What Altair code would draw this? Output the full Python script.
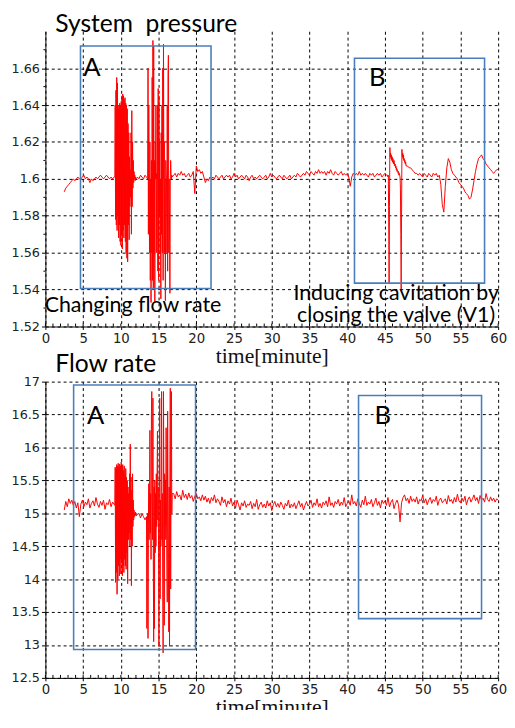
import altair as alt
import pandas as pd

# ---------------- data ----------------
# pressure segments: (start minute, step minute, values)
p_seg1 = [1.593, 1.595, 1.596, 1.597, 1.598, 1.599, 1.600, 1.599, 1.600, 1.601,
          1.600, 1.600, 1.601, 1.602, 1.600, 1.601, 1.600, 1.598, 1.600, 1.599,
          1.600, 1.601, 1.600, 1.601, 1.602, 1.601, 1.600, 1.601, 1.602, 1.601,
          1.600, 1.601, 1.600, 1.601]
p_seg2 = [1.601, 1.601, 1.640, 1.578, 1.648, 1.575, 1.655, 1.572, 1.652, 1.580,
          1.640, 1.568, 1.638, 1.575, 1.641, 1.566, 1.640, 1.564, 1.642, 1.570,
          1.645, 1.562, 1.646, 1.572, 1.645, 1.568, 1.643, 1.575, 1.644, 1.566,
          1.641, 1.560, 1.640, 1.557, 1.638, 1.555, 1.630, 1.575, 1.625, 1.567,
          1.612, 1.585, 1.605, 1.590, 1.625, 1.570, 1.637, 1.585, 1.620, 1.595,
          1.610, 1.598, 1.604, 1.600, 1.602, 1.599, 1.601, 1.600]
p_seg3 = [1.601, 1.600, 1.602, 1.601, 1.600, 1.602, 1.601]
p_seg4 = [1.600, 1.660, 1.570, 1.640, 1.600, 1.560, 1.620, 1.545, 1.600, 1.533,
          1.610, 1.560, 1.655, 1.545, 1.675, 1.540, 1.672, 1.560, 1.610, 1.533,
          1.620, 1.600, 1.640, 1.560, 1.603, 1.600, 1.640, 1.550, 1.649, 1.545,
          1.645, 1.580, 1.620, 1.560, 1.600, 1.535, 1.625, 1.570, 1.640, 1.560,
          1.660, 1.545, 1.673, 1.600, 1.620, 1.560, 1.600, 1.534, 1.610, 1.602,
          1.600, 1.560, 1.640, 1.550, 1.655, 1.667, 1.560, 1.600, 1.575, 1.538,
          1.600, 1.610, 1.603, 1.600, 1.602, 1.601]
p_seg5 = [1.602, 1.603, 1.601, 1.603, 1.602, 1.604, 1.602, 1.603, 1.601, 1.602,
          1.603, 1.601, 1.602, 1.604, 1.592, 1.607, 1.604, 1.605, 1.603, 1.604,
          1.601, 1.598, 1.600, 1.599, 1.601, 1.600, 1.601, 1.600, 1.602, 1.601,
          1.600, 1.601, 1.602, 1.600, 1.601, 1.602, 1.601, 1.602, 1.600, 1.601,
          1.603, 1.601, 1.602, 1.600, 1.601, 1.602, 1.601, 1.600, 1.602, 1.601,
          1.599, 1.601, 1.602, 1.600, 1.601, 1.600, 1.601, 1.602, 1.601, 1.600,
          1.601, 1.602, 1.600, 1.601, 1.603, 1.601, 1.602, 1.601, 1.600, 1.601,
          1.602, 1.601, 1.600, 1.602, 1.601, 1.600, 1.601, 1.602, 1.600, 1.601,
          1.602, 1.601, 1.603, 1.602, 1.601, 1.602, 1.603, 1.602, 1.604, 1.603,
          1.602, 1.604, 1.603, 1.602, 1.604, 1.603, 1.605, 1.603, 1.604, 1.603,
          1.604, 1.602, 1.604, 1.603, 1.605, 1.603, 1.602, 1.604, 1.603, 1.602,
          1.603, 1.604, 1.602, 1.603, 1.602, 1.603, 1.601, 1.596, 1.601, 1.603,
          1.602, 1.603, 1.602, 1.604, 1.602, 1.603, 1.602, 1.603, 1.602, 1.601,
          1.603, 1.602, 1.603, 1.601, 1.602, 1.603, 1.602, 1.603, 1.601, 1.602,
          1.603, 1.602]
p_seg6 = [1.602, 1.601, 1.602, 1.575, 1.543, 1.585, 1.617, 1.612, 1.614, 1.611,
          1.613, 1.610, 1.612, 1.609, 1.611, 1.610, 1.608, 1.610, 1.609, 1.607,
          1.608, 1.606, 1.607, 1.605, 1.606, 1.604, 1.605, 1.604, 1.603, 1.604,
          1.602, 1.603, 1.602, 1.601, 1.595, 1.570, 1.540, 1.580, 1.616, 1.612,
          1.614, 1.611, 1.613, 1.610, 1.611, 1.609, 1.610, 1.608, 1.609, 1.607]
p_seg7 = [1.607, 1.606, 1.606, 1.605, 1.604, 1.603, 1.603, 1.602, 1.603, 1.602,
          1.601, 1.603, 1.602, 1.601, 1.603, 1.602, 1.601, 1.603, 1.602, 1.603,
          1.601, 1.602, 1.597, 1.586, 1.582, 1.596, 1.606, 1.611, 1.609, 1.605,
          1.603, 1.602, 1.601, 1.600, 1.598, 1.597, 1.596, 1.595, 1.593, 1.592,
          1.591, 1.589, 1.590, 1.594, 1.599, 1.604, 1.608, 1.611, 1.612, 1.613,
          1.611, 1.610, 1.608, 1.607, 1.606, 1.605, 1.604, 1.603, 1.604, 1.605,
          1.605]
p_segments = [(2.5, 0.2, p_seg1), (9.15, 0.05, p_seg2), (12.2, 0.2, p_seg3),
              (13.55, 0.05, p_seg4), (17.0, 0.2, p_seg5), (45.35, 0.05, p_seg6),
              (48.0, 0.2, p_seg7)]

# flow-rate segments
f_seg1 = [15.05, 15.18, 15.10, 15.22, 15.15, 15.20, 15.12, 15.18, 15.08, 15.16,
          14.95, 15.14, 15.20, 15.10, 15.17, 15.13, 15.22, 15.08, 15.15, 15.19,
          15.11, 15.24, 15.14, 15.09, 15.18, 15.12, 15.20, 15.06, 15.16, 15.13,
          15.21, 15.10, 15.17, 15.14]
f_seg2 = [15.12, 15.70, 13.95, 15.68, 14.10, 15.74, 13.77, 15.72, 14.00, 15.76,
          14.20, 15.70, 14.05, 15.75, 14.30, 15.72, 14.08, 15.78, 14.25, 15.70,
          14.05, 15.74, 14.20, 15.65, 14.10, 15.72, 14.30, 15.60, 14.20, 15.68,
          14.15, 15.55, 14.40, 15.50, 13.93, 15.40, 14.60, 15.30, 14.70, 15.60,
          14.50, 16.05, 14.60, 15.55, 13.90, 15.35, 14.50, 15.60, 14.80, 15.20,
          14.90, 15.05, 14.95, 15.00, 14.97, 15.02, 14.96]
f_seg3 = [14.98, 15.00, 14.93, 14.99, 14.95, 14.90]
f_seg4 = [14.95, 13.25, 14.90, 15.00, 13.10, 14.80, 15.45, 14.60, 15.20, 16.26,
          14.70, 15.30, 14.30, 16.50, 16.85, 15.20, 14.60, 16.75, 14.30, 13.05,
          15.40, 13.25, 15.50, 14.40, 15.30, 14.50, 15.60, 14.80, 15.50, 16.25,
          14.90, 15.40, 14.40, 12.98, 15.50, 16.75, 13.70, 15.20, 14.50, 15.60,
          16.85, 14.60, 15.30, 14.00, 12.88, 16.85, 15.40, 13.30, 15.60, 14.80,
          15.50, 14.60, 16.30, 15.00, 14.20, 13.65, 16.55, 15.20, 14.30, 13.20,
          15.40, 12.98, 15.60, 16.90, 13.85, 15.50, 16.85, 15.00, 15.30]
f_seg5 = [15.30, 15.22, 15.33, 15.25, 15.28, 15.20, 15.35, 15.24, 15.29, 15.21,
          15.31, 15.23, 15.27, 15.18, 15.26, 15.30, 15.22, 15.25, 15.19, 15.28,
          15.20, 15.26, 15.17, 15.23, 15.15, 15.24, 15.19, 15.28, 15.16, 15.22,
          15.18, 15.12, 15.25, 15.16, 15.21, 15.10, 15.19, 15.14, 15.23, 15.11,
          15.17, 15.08, 15.20, 15.13, 15.05, 15.16, 15.11, 15.19, 15.09, 15.14,
          15.12, 15.18, 15.07, 15.15, 15.10, 15.21, 15.06, 15.13, 15.17, 15.09,
          15.14, 15.08, 15.19, 15.11, 15.16, 15.04, 15.13, 15.18, 15.10, 15.15,
          15.09, 15.17, 15.12, 15.06, 15.15, 15.11, 15.20, 15.08, 15.14, 15.10,
          15.16, 15.07, 15.13, 15.19, 15.10, 15.15, 15.05, 15.12, 15.18, 15.11,
          15.14, 15.20, 15.09, 15.16, 15.12, 15.22, 15.10, 15.15, 15.08, 15.17,
          15.13, 15.19, 15.10, 15.25, 15.12, 15.16, 15.09, 15.18, 15.14, 15.21,
          15.11, 15.17, 15.13, 15.24, 15.10, 15.15, 15.19, 15.12, 15.28, 15.14,
          15.18, 15.11, 15.22, 15.15, 15.09, 15.20, 15.13, 15.26, 15.12, 15.17,
          15.14, 15.21, 15.10, 15.16, 15.23, 15.12, 15.18, 15.08, 15.20, 15.15,
          15.19, 15.12, 15.24, 15.10, 15.17, 15.21, 15.07, 15.15, 15.20, 15.13,
          14.87, 15.16, 15.24, 15.28, 15.19, 15.23, 15.15, 15.26, 15.18, 15.22,
          15.17, 15.25, 15.14, 15.21, 15.19, 15.27, 15.16, 15.22, 15.13, 15.20,
          15.24, 15.15, 15.21, 15.18, 15.26, 15.12, 15.20, 15.23, 15.16, 15.19,
          15.22, 15.14, 15.27, 15.18, 15.21, 15.15, 15.24, 15.17, 15.29, 15.19,
          15.16, 15.23, 15.18, 15.26, 15.13, 15.21, 15.25, 15.17, 15.22, 15.28,
          15.19, 15.24, 15.15, 15.27, 15.20, 15.23, 15.17, 15.30, 15.21, 15.18,
          15.25, 15.19, 15.23, 15.17, 15.22, 15.20]
f_segments = [(2.5, 0.2, f_seg1), (9.2, 0.05, f_seg2), (12.2, 0.2, f_seg3),
              (13.4, 0.05, f_seg4), (17.0, 0.2, f_seg5)]

x_ticks = [0, 5, 10, 15, 20, 25, 30, 35, 40, 45, 50, 55, 60]
x_minor = list(range(0, 61))
p_ticks = [1.52, 1.54, 1.56, 1.58, 1.60, 1.62, 1.64, 1.66]
p_minor = [1.53, 1.55, 1.57, 1.59, 1.61, 1.63, 1.65, 1.67]
f_ticks = [12.5, 13, 13.5, 14, 14.5, 15, 15.5, 16, 16.5, 17]

# annotation boxes
p_box_x1 = [4.65, 40.96]
p_box_x2 = [21.95, 58.2]
p_box_y1 = [1.5406, 1.5435]
p_box_y2 = [1.672, 1.6654]
f_box_x1 = [3.74, 41.5]
f_box_x2 = [19.9, 57.8]
f_box_y1 = [12.93, 13.4]
f_box_y2 = [16.95, 16.79]

# letters and notes
p_letters = ["A", "B"]
p_letter_t = [5.0, 42.9]
p_letter_v = [1.656, 1.6503]
f_letters = ["A", "B"]
f_letter_t = [5.5, 43.6]
f_letter_v = [16.35, 16.35]
# left-aligned note
p_note_l = ["Changing flow rate"]
p_note_l_t = [-0.1]
p_note_l_v = [1.528]
# right-aligned notes (anchored at their right end)
p_note_r = ["Inducing cavitation by", "closing the valve (V1)"]
p_note_r_t = [60.1, 59.6]
p_note_r_v = [1.5342, 1.5227]

XT = "time[minute]"


def build(segments):
    ts, vs = [], []
    for start, step, vals in segments:
        for i, v in enumerate(vals):
            ts.append(round(start + i * step, 3))
            vs.append(v)
    return pd.DataFrame({"t": ts, "v": vs})


p_df = build(p_segments)
f_df = build(f_segments)

W = 460
RED = "#ff0000"
BLUE = "#4a7ebb"
SANS = "Lato"

xscale = alt.Scale(domain=[0, 60], nice=False)


def text_layer(texts, ts, vs, yscale, size, align):
    d = pd.DataFrame({"s": texts, "t": ts, "v": vs})
    return alt.Chart(d).mark_text(font=SANS, fontSize=size, align=align,
                                  baseline="alphabetic", color="black").encode(
        x=alt.X("t:Q", scale=xscale, title=XT),
        y=alt.Y("v:Q", scale=yscale, title=None), text="s:N")


def panel(df, ydomain, yticks, yminor, bx1, bx2, by1, by2, letters, lt, lv,
          notes, title, title_y, H):
    yscale = alt.Scale(domain=ydomain, nice=False, zero=False)
    xaxis = alt.Axis(values=x_ticks, tickCount=30, grid=True, labelOverlap=False,
                     labelFlush=False, gridDash=[3, 3], gridColor="black",
                     tickSize=3, labelPadding=2, titlePadding=1,
                     labelFontSize=13.5, titleFont="Liberation Serif",
                     titleFontSize=22, titleFontWeight="normal",
                     titleColor="#111")
    yaxis = alt.Axis(values=yticks, tickCount=30, format="~g", grid=True,
                     labelOverlap=False, labelFlush=False, gridDash=[3, 3],
                     gridColor="black", tickSize=4, labelPadding=2,
                     labelFontSize=13)
    line = alt.Chart(df).mark_line(color=RED, strokeWidth=1).encode(
        x=alt.X("t:Q", scale=xscale, axis=xaxis, title=XT),
        y=alt.Y("v:Q", scale=yscale, axis=yaxis, title=None),
    )
    box_df = pd.DataFrame({"x1": bx1, "x2": bx2, "y1": by1, "y2": by2})
    boxes = alt.Chart(box_df).mark_rect(fill="transparent", stroke=BLUE,
                                        strokeWidth=1.6).encode(
        x=alt.X("x1:Q", scale=xscale, title=XT), x2="x2:Q",
        y=alt.Y("y1:Q", scale=yscale, title=None), y2="y2:Q")
    xm = alt.Chart(pd.DataFrame({"m": x_minor})).mark_rule(
        color="black", strokeWidth=1).encode(
        x=alt.X("m:Q", scale=xscale, title=XT),
        y=alt.value(H), y2=alt.value(H - 3))
    layers = [line, boxes, xm]
    if yminor:
        ym = alt.Chart(pd.DataFrame({"m": yminor})).mark_rule(
            color="black", strokeWidth=1).encode(
            y=alt.Y("m:Q", scale=yscale, title=None),
            x=alt.value(-2), x2=alt.value(0))
        layers.append(ym)
    layers.append(text_layer(letters, lt, lv, yscale, 26, "left"))
    for (texts, ts, vs, align) in notes:
        layers.append(text_layer(texts, ts, vs, yscale, 21.7, align))
    ttl = alt.Chart(pd.DataFrame({"s": [title]})).mark_text(
        font=SANS, fontSize=25, align="left", baseline="alphabetic",
        color="black").encode(x=alt.value(10), y=alt.value(title_y), text="s:N")
    layers.append(ttl)
    return alt.layer(*layers).properties(width=W, height=H)


top = panel(p_df, [1.52, 1.68], p_ticks, p_minor, p_box_x1, p_box_x2,
            p_box_y1, p_box_y2, p_letters, p_letter_t, p_letter_v,
            [(p_note_l, p_note_l_t, p_note_l_v, "left"),
             (p_note_r, p_note_r_t, p_note_r_v, "right")],
            "System\u00a0 pressure", 1, 300)
bottom = panel(f_df, [12.5, 17], f_ticks, [], f_box_x1, f_box_x2,
               f_box_y1, f_box_y2, f_letters, f_letter_t, f_letter_v,
               [], "Flow rate", -10, 301)

chart = alt.vconcat(top, bottom, spacing=56, bounds="flush").configure_view(
    stroke=None).configure_axis(
    domainColor="black", tickColor="black", labelFont="DejaVu Sans",
    labelColor="#222", domainWidth=1).properties(
    padding={"left": 3, "top": -1, "right": 0, "bottom": -14})

chart.save("out.html", embed_options={"renderer": "svg", "actions": False})
